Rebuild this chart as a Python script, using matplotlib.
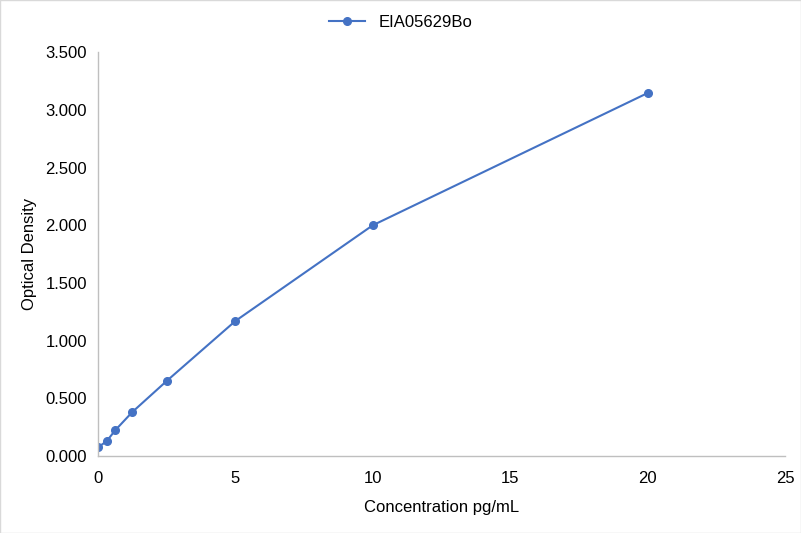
import matplotlib
matplotlib.use("Agg")
import matplotlib.pyplot as plt
from matplotlib.ticker import FuncFormatter

plt.rcParams['font.family'] = ['Liberation Sans', 'DejaVu Sans']

# standard curve values
conc = [0, 0.313, 0.625, 1.25, 2.5, 5, 10, 20]
od = [0.075, 0.127, 0.222, 0.381, 0.650, 1.170, 2.000, 3.146]
series_name = "EIA05629Bo"
x_label = "Concentration pg/mL"
y_label = "Optical Density"

fig = plt.figure(figsize=(8.01, 5.33), dpi=100)
ax = fig.add_axes([0.1223, 0.1445, 0.8577, 0.7575])

ax.plot(conc, od, color='#4472C4', lw=1.5, marker='o', ms=5.5, label=series_name)

ax.set_xlim(0, 25)
ax.set_ylim(0, 3.5)
ax.set_xticks(range(0, 26, 5))
ax.set_yticks([i * 0.5 for i in range(8)])
ax.yaxis.set_major_formatter(FuncFormatter(lambda v, p: f"{v:.3f}"))

for s in ['top', 'right']:
    ax.spines[s].set_visible(False)
for s in ['left', 'bottom']:
    ax.spines[s].set_color('#BFBFBF')
    ax.spines[s].set_linewidth(1)
ax.tick_params(length=0, labelsize=12, colors='#000000')
ax.tick_params(axis='y', pad=8)
ax.tick_params(axis='x', pad=11)

ax.set_xlabel(x_label, fontsize=12, labelpad=10)
ax.set_ylabel(y_label, fontsize=12, labelpad=6)

fig.legend(loc='upper center', bbox_to_anchor=(0.5, 1.0), frameon=False,
           fontsize=12, handlelength=2.2, borderaxespad=0.5)

fig.patches.append(plt.Rectangle((0, 0), 1, 1, transform=fig.transFigure,
                                 fill=False, edgecolor='#D9D9D9', lw=1))

fig.savefig("out.png", dpi=100)
